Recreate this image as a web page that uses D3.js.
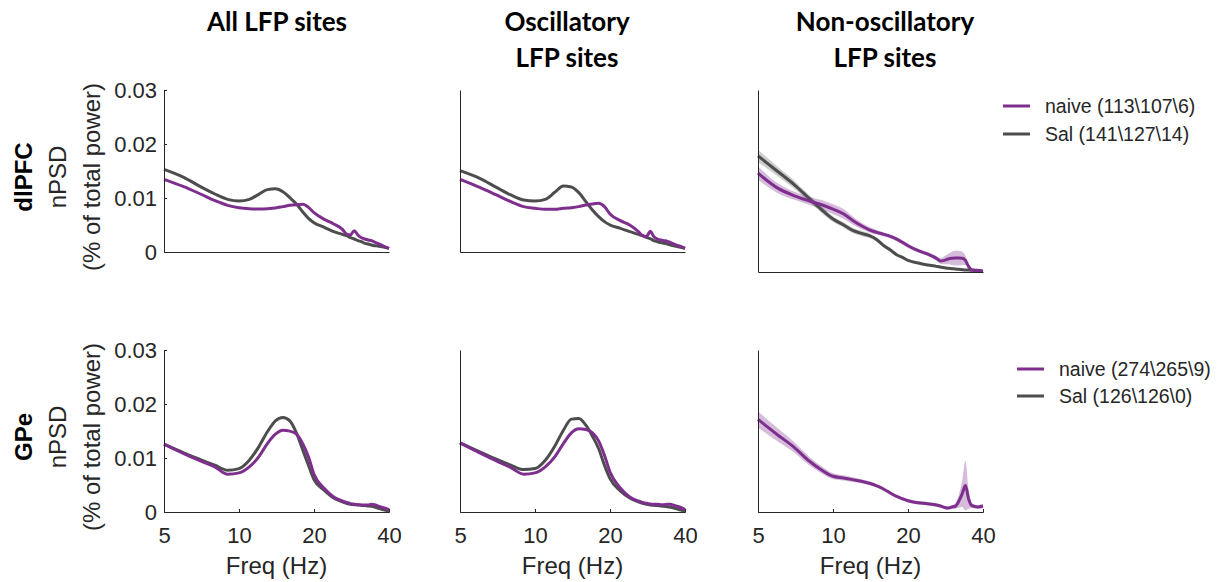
<!DOCTYPE html>
<html>
<head>
<meta charset="utf-8">
<script src="https://cdn.jsdelivr.net/npm/d3@7"></script>
<style>
  body { margin: 0; background: #fff; }
  text { font-family: "Liberation Sans", Arial, sans-serif; }
</style>
</head>
<body>
<svg id="fig" width="1222" height="582"></svg>
<script>
// Frequency grid (Hz) shared by every spectrum
const freqs = [5,6,7,8,9,10,11,12,13,14,15,16,17,18,19,20,22,24,26,27,28,29,30,31,32,33,34,35,36,38,40];

// dlPFC — all LFP sites
const dlpfcAllNaive = [0.01346,0.0121,0.01074,0.00951,0.00864,0.00821,0.00802,0.00796,0.00802,0.00815,0.0084,0.00864,0.00877,0.00883,0.00827,0.00728,0.00605,0.00519,0.0042,0.00333,0.00315,0.00395,0.00315,0.00265,0.00241,0.00222,0.0021,0.00185,0.0016,0.00111,0.00068];
const dlpfcAllSal   = [0.01531,0.01383,0.0121,0.01074,0.00975,0.00944,0.00975,0.01068,0.01155,0.0117,0.01117,0.01006,0.00889,0.00747,0.00623,0.00543,0.00457,0.00377,0.00327,0.00302,0.00265,0.00241,0.0021,0.00191,0.0016,0.00148,0.0013,0.00117,0.00111,0.00093,0.00068];

// dlPFC — oscillatory sites
const dlpfcOscNaive = [0.01346,0.01198,0.01056,0.00932,0.0084,0.00809,0.0079,0.0079,0.00809,0.00821,0.0084,0.0087,0.00889,0.00901,0.0084,0.00704,0.0058,0.005,0.00377,0.00302,0.00284,0.00383,0.00284,0.00241,0.00222,0.0021,0.00198,0.00173,0.00148,0.00111,0.00068];
const dlpfcOscSal   = [0.01506,0.01364,0.01198,0.01056,0.00963,0.00944,0.00975,0.01105,0.01222,0.01205,0.01099,0.00932,0.00778,0.00654,0.00562,0.005,0.00438,0.00377,0.00327,0.00302,0.00272,0.00247,0.0021,0.00191,0.00173,0.0016,0.00148,0.0013,0.00117,0.00093,0.00068];

// dlPFC — non-oscillatory sites (mean and s.e.m.)
const dlpfcNonNaive    = [0.01629,0.01382,0.01256,0.01174,0.01108,0.01036,0.0096,0.0085,0.00762,0.00696,0.00653,0.0062,0.00587,0.00543,0.00488,0.00433,0.00351,0.00296,0.00225,0.00181,0.00192,0.00214,0.00225,0.0023,0.0023,0.00225,0.00192,0.00093,0.00038,0.00027,0.00016];
const dlpfcNonNaiveSem = [0.0011,0.00082,0.00066,0.00066,0.00077,0.00082,0.00082,0.00066,0.00055,0.00044,0.00038,0.00033,0.00033,0.00033,0.00033,0.00033,0.00033,0.00033,0.00038,0.00044,0.00066,0.00088,0.0011,0.00121,0.00121,0.0011,0.00077,0.00033,0.00022,0.00016,0.00016];
const dlpfcNonSal      = [0.01914,0.01656,0.01437,0.01217,0.01026,0.00872,0.00779,0.00686,0.00636,0.00598,0.00532,0.00433,0.00362,0.00285,0.00241,0.00192,0.00148,0.00115,0.00093,0.00082,0.00071,0.0006,0.00055,0.00049,0.00044,0.00038,0.00033,0.00033,0.00027,0.00022,0.00011];
const dlpfcNonSalSem   = [0.00099,0.00077,0.00066,0.00055,0.00055,0.00049,0.00044,0.00044,0.00044,0.00038,0.00033,0.00027,0.00022,0.00022,0.00016,0.00016,0.00016,0.00016,0.00016,0.00016,0.00016,0.00016,0.00016,0.00016,0.00016,0.00016,0.00011,0.00011,0.00011,0.00011,0.00011];

// GPe — all LFP sites
const gpeAllNaive = [0.01256,0.01082,0.00946,0.00835,0.00699,0.00724,0.00835,0.01021,0.01268,0.01441,0.01515,0.01497,0.01441,0.01268,0.01021,0.00699,0.00433,0.00278,0.00204,0.00179,0.00155,0.00142,0.00136,0.0013,0.0013,0.0013,0.00142,0.00136,0.00111,0.0008,0.00043];
const gpeAllSal   = [0.01256,0.01095,0.00971,0.00866,0.00773,0.00804,0.00959,0.01206,0.01485,0.01689,0.0175,0.01689,0.01466,0.01157,0.00866,0.006,0.00402,0.0026,0.00186,0.00161,0.00142,0.00136,0.0013,0.00124,0.00118,0.00111,0.00105,0.00093,0.00074,0.00043,0.00019];

// GPe — oscillatory sites
const gpeOscNaive = [0.0128,0.01095,0.00946,0.00823,0.00699,0.00724,0.00835,0.01021,0.01268,0.01466,0.0154,0.01528,0.01466,0.01318,0.01052,0.00742,0.00445,0.00278,0.00204,0.00179,0.00161,0.00148,0.00142,0.00142,0.00136,0.00136,0.00142,0.00142,0.00124,0.00093,0.00043];
const gpeOscSal   = [0.0128,0.01113,0.00977,0.00866,0.00786,0.00804,0.00959,0.01219,0.01515,0.0172,0.01732,0.01608,0.01404,0.01175,0.00866,0.00619,0.0039,0.0026,0.00186,0.00161,0.00142,0.0013,0.00124,0.00118,0.00111,0.00105,0.00099,0.00087,0.00074,0.00043,0.00019];

// GPe — non-oscillatory sites (no Sal sites in this group)
const gpeNonNaive    = [0.01714,0.01427,0.01194,0.00949,0.00778,0.00661,0.00631,0.006,0.00569,0.00533,0.00484,0.00422,0.00349,0.00288,0.00245,0.00208,0.00171,0.00153,0.00129,0.0011,0.00086,0.00073,0.00092,0.0011,0.00202,0.00337,0.0049,0.00245,0.00122,0.00092,0.0011];
const gpeNonNaiveSem = [0.00153,0.00122,0.00098,0.0008,0.00067,0.00055,0.00049,0.00043,0.00037,0.00037,0.00031,0.00031,0.00031,0.00031,0.00031,0.00031,0.00031,0.00031,0.00031,0.00031,0.00031,0.00031,0.00037,0.00049,0.00122,0.00245,0.0046,0.00184,0.00049,0.00031,0.00049];

// Axis ticks and labels
const xTicks = [5, 10, 20, 40];
const xTickLabels = ["5", "10", "20", "40"];
const yTicks = [0, 0.01, 0.02, 0.03];
const yTickLabels = ["0", "0.01", "0.02", "0.03"];

const columnTitles = [["All LFP sites"], ["Oscillatory", "LFP sites"], ["Non-oscillatory", "LFP sites"]];
const rowTitles = ["dlPFC", "GPe"];
const legendLabels = [
  ["naive (113\\107\\6)", "Sal (141\\127\\14)"],
  ["naive (274\\265\\9)", "Sal (126\\126\\0)"]
];

const COLORS = { naive: "#7e2f8e", sal: "#4d4d4d" };
const BAND = { naive: "rgba(126,47,142,0.32)", sal: "rgba(90,90,90,0.3)" };
const AXIS = "#262626";

const svg = d3.select("#fig");

// Panel frames (pixel boxes)
const panels = [
  { row: 0, col: 0, x0: 164, x1: 389, y0: 90, y1: 252, naive: dlpfcAllNaive, sal: dlpfcAllSal },
  { row: 0, col: 1, x0: 460, x1: 685, y0: 90, y1: 252, naive: dlpfcOscNaive, sal: dlpfcOscSal },
  { row: 0, col: 2, x0: 758, x1: 983, y0: 90, y1: 272, naive: dlpfcNonNaive, sal: dlpfcNonSal,
    naiveSem: dlpfcNonNaiveSem, salSem: dlpfcNonSalSem },
  { row: 1, col: 0, x0: 164, x1: 389, y0: 350, y1: 512, naive: gpeAllNaive, sal: gpeAllSal },
  { row: 1, col: 1, x0: 460, x1: 685, y0: 350, y1: 512, naive: gpeOscNaive, sal: gpeOscSal },
  { row: 1, col: 2, x0: 758, x1: 983, y0: 350, y1: 512, naive: gpeNonNaive, naiveSem: gpeNonNaiveSem }
];

panels.forEach(p => {
  const x = d3.scaleLog().domain([5, 40]).range([p.x0, p.x1]);
  const y = d3.scaleLinear().domain([0, 0.03]).range([p.y1, p.y0]);
  const g = svg.append("g");

  const line = d3.line()
    .x((d, i) => x(freqs[i]))
    .y(d => y(d))
    .curve(d3.curveMonotoneX);
  const area = (mean, sem) => d3.area()
    .x((d, i) => x(freqs[i]))
    .y0((d, i) => y(Math.max(0, mean[i] - sem[i])))
    .y1((d, i) => y(mean[i] + sem[i]))
    .curve(d3.curveMonotoneX)(mean);

  // shaded s.e.m. bands
  if (p.salSem) g.append("path").attr("d", area(p.sal, p.salSem)).attr("fill", BAND.sal);
  if (p.naiveSem) g.append("path").attr("d", area(p.naive, p.naiveSem)).attr("fill", BAND.naive);

  // mean spectra: Sal drawn first, naive on top
  if (p.sal) g.append("path").attr("d", line(p.sal)).attr("fill", "none")
    .attr("stroke", COLORS.sal).attr("stroke-width", 3).attr("stroke-linejoin", "round");
  g.append("path").attr("d", line(p.naive)).attr("fill", "none")
    .attr("stroke", COLORS.naive).attr("stroke-width", 3).attr("stroke-linejoin", "round");

  // x axis
  const xAxis = d3.axisBottom(x).tickSizeOuter(0);
  if (p.row === 1) {
    xAxis.tickValues(xTicks).tickSize(-3).tickPadding(15)
      .tickFormat(d => xTickLabels[xTicks.indexOf(d)]);
  } else {
    xAxis.tickValues([]);
  }
  const gx = g.append("g").attr("transform", `translate(0,${p.y1})`).call(xAxis);

  // y axis
  const yAxis = d3.axisLeft(y).tickSizeOuter(0);
  if (p.col === 0) {
    yAxis.tickValues(yTicks).tickSize(-3).tickPadding(7)
      .tickFormat(d => yTickLabels[yTicks.indexOf(d)]);
  } else {
    yAxis.tickValues([]);
  }
  const gy = g.append("g").attr("transform", `translate(${p.x0},0)`).call(yAxis);

  [gx, gy].forEach(a => {
    a.select(".domain").attr("stroke", AXIS).attr("stroke-width", 1);
    a.selectAll(".tick line").attr("stroke", AXIS);
    a.selectAll(".tick text").attr("fill", AXIS)
      .style("font-family", "'Liberation Sans', Arial, sans-serif").style("font-size", "22px");
  });

  if (p.row === 1) {
    g.append("text")
      .attr("x", (p.x0 + p.x1) / 2).attr("y", 574)
      .attr("text-anchor", "middle").attr("fill", AXIS)
      .style("font-size", "24px").text("Freq (Hz)");
  }
});

// Column titles
const titleX = [277, 567, 885];
columnTitles.forEach((lines, c) => {
  lines.forEach((t, k) => {
    svg.append("text")
      .attr("x", titleX[c]).attr("y", 31 + k * 36)
      .attr("text-anchor", "middle")
      .style("font-family", "Lato, 'Open Sans', sans-serif")
      .style("font-weight", 700).style("font-size", "26px")
      .attr("fill", "#000").text(t);
  });
});

// Row labels and y-axis titles
const rowCenter = [177, 437];
rowTitles.forEach((t, r) => {
  const cy = rowCenter[r];
  svg.append("text")
    .attr("transform", `translate(32,${cy}) rotate(-90)`)
    .attr("text-anchor", "middle")
    .style("font-weight", 700).style("font-size", "24px")
    .attr("fill", "#000").text(t);
  svg.append("text")
    .attr("transform", `translate(66,${cy}) rotate(-90)`)
    .attr("text-anchor", "middle").style("font-size", "24px")
    .attr("fill", AXIS).text("nPSD");
  svg.append("text")
    .attr("transform", `translate(100,${cy}) rotate(-90)`)
    .attr("text-anchor", "middle").style("font-size", "24px")
    .attr("fill", AXIS).text("(% of total power)");
});

// Legends
const legendPos = [
  { x: 1003, y: 106, gap: 28 },
  { x: 1017, y: 369, gap: 27 }
];
legendLabels.forEach((labels, r) => {
  const L = legendPos[r];
  ["naive", "sal"].forEach((key, k) => {
    const yy = L.y + k * L.gap;
    svg.append("line")
      .attr("x1", L.x).attr("x2", L.x + 27).attr("y1", yy).attr("y2", yy)
      .attr("stroke", COLORS[key]).attr("stroke-width", 3);
    svg.append("text")
      .attr("x", L.x + 42).attr("y", yy).attr("dy", "0.35em")
      .style("font-size", "19.5px").attr("fill", AXIS).text(labels[k]);
  });
});
</script>
</body>
</html>
